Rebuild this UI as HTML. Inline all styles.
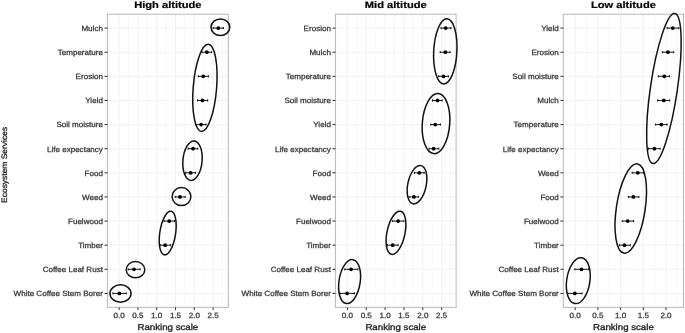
<!DOCTYPE html>
<html><head><meta charset="utf-8"><title>Ranking scale</title>
<style>
html,body{margin:0;padding:0;background:#fff;}
body{width:685px;height:333px;overflow:hidden;}
svg{display:block;font-family:"Liberation Sans",sans-serif;will-change:transform;text-rendering:geometricPrecision;}
</style></head><body>
<svg width="685" height="333" viewBox="0 0 685 333">
<rect x="0" y="0" width="685" height="333" fill="#fff"/>
<g stroke="#f6f6f6" stroke-width="0.8"><line x1="109.7" y1="14.2" x2="109.7" y2="307.4"/><line x1="128.5" y1="14.2" x2="128.5" y2="307.4"/><line x1="147.3" y1="14.2" x2="147.3" y2="307.4"/><line x1="166.1" y1="14.2" x2="166.1" y2="307.4"/><line x1="184.9" y1="14.2" x2="184.9" y2="307.4"/><line x1="203.7" y1="14.2" x2="203.7" y2="307.4"/><line x1="222.5" y1="14.2" x2="222.5" y2="307.4"/></g>
<g stroke="#efefef" stroke-width="0.9"><line x1="119.1" y1="14.2" x2="119.1" y2="307.4"/><line x1="137.9" y1="14.2" x2="137.9" y2="307.4"/><line x1="156.7" y1="14.2" x2="156.7" y2="307.4"/><line x1="175.5" y1="14.2" x2="175.5" y2="307.4"/><line x1="194.3" y1="14.2" x2="194.3" y2="307.4"/><line x1="213.1" y1="14.2" x2="213.1" y2="307.4"/><line x1="107.4" y1="28.1" x2="228.3" y2="28.1"/><line x1="107.4" y1="52.22" x2="228.3" y2="52.22"/><line x1="107.4" y1="76.34" x2="228.3" y2="76.34"/><line x1="107.4" y1="100.46" x2="228.3" y2="100.46"/><line x1="107.4" y1="124.58" x2="228.3" y2="124.58"/><line x1="107.4" y1="148.7" x2="228.3" y2="148.7"/><line x1="107.4" y1="172.82" x2="228.3" y2="172.82"/><line x1="107.4" y1="196.94" x2="228.3" y2="196.94"/><line x1="107.4" y1="221.06" x2="228.3" y2="221.06"/><line x1="107.4" y1="245.18" x2="228.3" y2="245.18"/><line x1="107.4" y1="269.3" x2="228.3" y2="269.3"/><line x1="107.4" y1="293.42" x2="228.3" y2="293.42"/></g>
<rect x="107.4" y="14.2" width="120.9" height="293.2" fill="none" stroke="#b8b8b8" stroke-width="1"/>
<g stroke="#333" stroke-width="1.05"><line x1="119.1" y1="307.4" x2="119.1" y2="310.1"/><line x1="137.9" y1="307.4" x2="137.9" y2="310.1"/><line x1="156.7" y1="307.4" x2="156.7" y2="310.1"/><line x1="175.5" y1="307.4" x2="175.5" y2="310.1"/><line x1="194.3" y1="307.4" x2="194.3" y2="310.1"/><line x1="213.1" y1="307.4" x2="213.1" y2="310.1"/><line x1="104.5" y1="28.1" x2="107.4" y2="28.1"/><line x1="104.5" y1="52.22" x2="107.4" y2="52.22"/><line x1="104.5" y1="76.34" x2="107.4" y2="76.34"/><line x1="104.5" y1="100.46" x2="107.4" y2="100.46"/><line x1="104.5" y1="124.58" x2="107.4" y2="124.58"/><line x1="104.5" y1="148.7" x2="107.4" y2="148.7"/><line x1="104.5" y1="172.82" x2="107.4" y2="172.82"/><line x1="104.5" y1="196.94" x2="107.4" y2="196.94"/><line x1="104.5" y1="221.06" x2="107.4" y2="221.06"/><line x1="104.5" y1="245.18" x2="107.4" y2="245.18"/><line x1="104.5" y1="269.3" x2="107.4" y2="269.3"/><line x1="104.5" y1="293.42" x2="107.4" y2="293.42"/></g>
<g font-size="7.6" fill="#333" stroke="#333" stroke-width="0.25" text-anchor="end"><text x="0" y="0" transform="translate(102.9,30.9) scale(1.06,1)">Mulch</text><text x="0" y="0" transform="translate(102.9,55.02) scale(1.06,1)">Temperature</text><text x="0" y="0" transform="translate(102.9,79.14) scale(1.06,1)">Erosion</text><text x="0" y="0" transform="translate(102.9,103.26) scale(1.06,1)">Yield</text><text x="0" y="0" transform="translate(102.9,127.38) scale(1.06,1)">Soil moisture</text><text x="0" y="0" transform="translate(102.9,151.5) scale(1.06,1)">Life expectancy</text><text x="0" y="0" transform="translate(102.9,175.62) scale(1.06,1)">Food</text><text x="0" y="0" transform="translate(102.9,199.74) scale(1.06,1)">Weed</text><text x="0" y="0" transform="translate(102.9,223.86) scale(1.06,1)">Fuelwood</text><text x="0" y="0" transform="translate(102.9,247.98) scale(1.06,1)">Timber</text><text x="0" y="0" transform="translate(102.9,272.1) scale(1.06,1)">Coffee Leaf Rust</text><text x="0" y="0" transform="translate(102.9,296.22) scale(1.06,1)">White Coffee Stem Borer</text></g>
<g font-size="7.6" fill="#333" stroke="#333" stroke-width="0.25" text-anchor="middle"><text x="0" y="0" transform="translate(119.1,317.75) scale(1.06,1)">0.0</text><text x="0" y="0" transform="translate(137.9,317.75) scale(1.06,1)">0.5</text><text x="0" y="0" transform="translate(156.7,317.75) scale(1.06,1)">1.0</text><text x="0" y="0" transform="translate(175.5,317.75) scale(1.06,1)">1.5</text><text x="0" y="0" transform="translate(194.3,317.75) scale(1.06,1)">2.0</text><text x="0" y="0" transform="translate(213.1,317.75) scale(1.06,1)">2.5</text></g>
<text x="0" y="0" transform="translate(167.85,329.8) scale(1.125,1)" font-size="8.6" fill="#1a1a1a" stroke="#1a1a1a" stroke-width="0.3" text-anchor="middle">Ranking scale</text>
<text x="0" y="0" transform="translate(167.85,7.95) scale(1.18,1)" font-size="9.45" font-weight="bold" fill="#000" stroke="#000" stroke-width="0.2" text-anchor="middle">High altitude</text>
<g stroke="#000" stroke-width="0.9"><line x1="213.1" y1="28.1" x2="223.4" y2="28.1"/><line x1="213.1" y1="27" x2="213.1" y2="29.2"/><line x1="223.4" y1="27" x2="223.4" y2="29.2"/><line x1="201.9" y1="52.22" x2="211.6" y2="52.22"/><line x1="201.9" y1="51.12" x2="201.9" y2="53.32"/><line x1="211.6" y1="51.12" x2="211.6" y2="53.32"/><line x1="198.3" y1="76.34" x2="208.4" y2="76.34"/><line x1="198.3" y1="75.24" x2="198.3" y2="77.44"/><line x1="208.4" y1="75.24" x2="208.4" y2="77.44"/><line x1="197.5" y1="100.46" x2="207.7" y2="100.46"/><line x1="197.5" y1="99.36" x2="197.5" y2="101.56"/><line x1="207.7" y1="99.36" x2="207.7" y2="101.56"/><line x1="195.6" y1="124.58" x2="206.1" y2="124.58"/><line x1="195.6" y1="123.48" x2="195.6" y2="125.68"/><line x1="206.1" y1="123.48" x2="206.1" y2="125.68"/><line x1="188.2" y1="148.7" x2="197.7" y2="148.7"/><line x1="188.2" y1="147.6" x2="188.2" y2="149.8"/><line x1="197.7" y1="147.6" x2="197.7" y2="149.8"/><line x1="185.6" y1="172.82" x2="195.5" y2="172.82"/><line x1="185.6" y1="171.72" x2="185.6" y2="173.92"/><line x1="195.5" y1="171.72" x2="195.5" y2="173.92"/><line x1="175.2" y1="196.94" x2="185.2" y2="196.94"/><line x1="175.2" y1="195.84" x2="175.2" y2="198.04"/><line x1="185.2" y1="195.84" x2="185.2" y2="198.04"/><line x1="164" y1="221.06" x2="174.5" y2="221.06"/><line x1="164" y1="219.96" x2="164" y2="222.16"/><line x1="174.5" y1="219.96" x2="174.5" y2="222.16"/><line x1="160.2" y1="245.18" x2="170.7" y2="245.18"/><line x1="160.2" y1="244.08" x2="160.2" y2="246.28"/><line x1="170.7" y1="244.08" x2="170.7" y2="246.28"/><line x1="128.2" y1="269.3" x2="140.1" y2="269.3"/><line x1="128.2" y1="268.2" x2="128.2" y2="270.4"/><line x1="140.1" y1="268.2" x2="140.1" y2="270.4"/><line x1="112.9" y1="293.42" x2="126.2" y2="293.42"/><line x1="112.9" y1="292.32" x2="112.9" y2="294.52"/><line x1="126.2" y1="292.32" x2="126.2" y2="294.52"/></g>
<g fill="#000"><circle cx="218.3" cy="28.1" r="1.9"/><circle cx="206.9" cy="52.22" r="1.9"/><circle cx="203.3" cy="76.34" r="1.9"/><circle cx="202.5" cy="100.46" r="1.9"/><circle cx="201.1" cy="124.58" r="1.9"/><circle cx="193.1" cy="148.7" r="1.9"/><circle cx="190.7" cy="172.82" r="1.9"/><circle cx="180" cy="196.94" r="1.9"/><circle cx="169.2" cy="221.06" r="1.9"/><circle cx="165.2" cy="245.18" r="1.9"/><circle cx="134" cy="269.3" r="1.9"/><circle cx="119.4" cy="293.42" r="1.9"/></g>
<g fill="none" stroke="#111" stroke-width="1.5"><ellipse cx="0" cy="0" rx="9.4" ry="8.3" transform="translate(220.4,27.3) rotate(0)"/><ellipse cx="0" cy="0" rx="11.7" ry="43.7" transform="translate(204.9,87.85) rotate(4.6)"/><ellipse cx="0" cy="0" rx="9.6" ry="19.8" transform="translate(192.5,160.7) rotate(5)"/><ellipse cx="0" cy="0" rx="9.4" ry="9" transform="translate(181.5,196.6) rotate(0)"/><ellipse cx="0" cy="0" rx="7.9" ry="22" transform="translate(167.7,233.1) rotate(8.7)"/><ellipse cx="0" cy="0" rx="9.3" ry="8.1" transform="translate(135.5,269.7) rotate(0)"/><ellipse cx="0" cy="0" rx="10.5" ry="8.7" transform="translate(120.5,293.5) rotate(0)"/></g>
<g stroke="#f6f6f6" stroke-width="0.8"><line x1="337.97" y1="14.2" x2="337.97" y2="307.4"/><line x1="356.82" y1="14.2" x2="356.82" y2="307.4"/><line x1="375.67" y1="14.2" x2="375.67" y2="307.4"/><line x1="394.52" y1="14.2" x2="394.52" y2="307.4"/><line x1="413.38" y1="14.2" x2="413.38" y2="307.4"/><line x1="432.22" y1="14.2" x2="432.22" y2="307.4"/><line x1="451.07" y1="14.2" x2="451.07" y2="307.4"/></g>
<g stroke="#efefef" stroke-width="0.9"><line x1="347.4" y1="14.2" x2="347.4" y2="307.4"/><line x1="366.25" y1="14.2" x2="366.25" y2="307.4"/><line x1="385.1" y1="14.2" x2="385.1" y2="307.4"/><line x1="403.95" y1="14.2" x2="403.95" y2="307.4"/><line x1="422.8" y1="14.2" x2="422.8" y2="307.4"/><line x1="441.65" y1="14.2" x2="441.65" y2="307.4"/><line x1="335.4" y1="28.1" x2="456.1" y2="28.1"/><line x1="335.4" y1="52.22" x2="456.1" y2="52.22"/><line x1="335.4" y1="76.34" x2="456.1" y2="76.34"/><line x1="335.4" y1="100.46" x2="456.1" y2="100.46"/><line x1="335.4" y1="124.58" x2="456.1" y2="124.58"/><line x1="335.4" y1="148.7" x2="456.1" y2="148.7"/><line x1="335.4" y1="172.82" x2="456.1" y2="172.82"/><line x1="335.4" y1="196.94" x2="456.1" y2="196.94"/><line x1="335.4" y1="221.06" x2="456.1" y2="221.06"/><line x1="335.4" y1="245.18" x2="456.1" y2="245.18"/><line x1="335.4" y1="269.3" x2="456.1" y2="269.3"/><line x1="335.4" y1="293.42" x2="456.1" y2="293.42"/></g>
<rect x="335.4" y="14.2" width="120.7" height="293.2" fill="none" stroke="#b8b8b8" stroke-width="1"/>
<g stroke="#333" stroke-width="1.05"><line x1="347.4" y1="307.4" x2="347.4" y2="310.1"/><line x1="366.25" y1="307.4" x2="366.25" y2="310.1"/><line x1="385.1" y1="307.4" x2="385.1" y2="310.1"/><line x1="403.95" y1="307.4" x2="403.95" y2="310.1"/><line x1="422.8" y1="307.4" x2="422.8" y2="310.1"/><line x1="441.65" y1="307.4" x2="441.65" y2="310.1"/><line x1="332.5" y1="28.1" x2="335.4" y2="28.1"/><line x1="332.5" y1="52.22" x2="335.4" y2="52.22"/><line x1="332.5" y1="76.34" x2="335.4" y2="76.34"/><line x1="332.5" y1="100.46" x2="335.4" y2="100.46"/><line x1="332.5" y1="124.58" x2="335.4" y2="124.58"/><line x1="332.5" y1="148.7" x2="335.4" y2="148.7"/><line x1="332.5" y1="172.82" x2="335.4" y2="172.82"/><line x1="332.5" y1="196.94" x2="335.4" y2="196.94"/><line x1="332.5" y1="221.06" x2="335.4" y2="221.06"/><line x1="332.5" y1="245.18" x2="335.4" y2="245.18"/><line x1="332.5" y1="269.3" x2="335.4" y2="269.3"/><line x1="332.5" y1="293.42" x2="335.4" y2="293.42"/></g>
<g font-size="7.6" fill="#333" stroke="#333" stroke-width="0.25" text-anchor="end"><text x="0" y="0" transform="translate(330.9,30.9) scale(1.06,1)">Erosion</text><text x="0" y="0" transform="translate(330.9,55.02) scale(1.06,1)">Mulch</text><text x="0" y="0" transform="translate(330.9,79.14) scale(1.06,1)">Temperature</text><text x="0" y="0" transform="translate(330.9,103.26) scale(1.06,1)">Soil moisture</text><text x="0" y="0" transform="translate(330.9,127.38) scale(1.06,1)">Yield</text><text x="0" y="0" transform="translate(330.9,151.5) scale(1.06,1)">Life expectancy</text><text x="0" y="0" transform="translate(330.9,175.62) scale(1.06,1)">Food</text><text x="0" y="0" transform="translate(330.9,199.74) scale(1.06,1)">Weed</text><text x="0" y="0" transform="translate(330.9,223.86) scale(1.06,1)">Fuelwood</text><text x="0" y="0" transform="translate(330.9,247.98) scale(1.06,1)">Timber</text><text x="0" y="0" transform="translate(330.9,272.1) scale(1.06,1)">Coffee Leaf Rust</text><text x="0" y="0" transform="translate(330.9,296.22) scale(1.06,1)">White Coffee Stem Borer</text></g>
<g font-size="7.6" fill="#333" stroke="#333" stroke-width="0.25" text-anchor="middle"><text x="0" y="0" transform="translate(347.4,317.75) scale(1.06,1)">0.0</text><text x="0" y="0" transform="translate(366.25,317.75) scale(1.06,1)">0.5</text><text x="0" y="0" transform="translate(385.1,317.75) scale(1.06,1)">1.0</text><text x="0" y="0" transform="translate(403.95,317.75) scale(1.06,1)">1.5</text><text x="0" y="0" transform="translate(422.8,317.75) scale(1.06,1)">2.0</text><text x="0" y="0" transform="translate(441.65,317.75) scale(1.06,1)">2.5</text></g>
<text x="0" y="0" transform="translate(395.75,329.8) scale(1.125,1)" font-size="8.6" fill="#1a1a1a" stroke="#1a1a1a" stroke-width="0.3" text-anchor="middle">Ranking scale</text>
<text x="0" y="0" transform="translate(395.75,7.95) scale(1.18,1)" font-size="9.45" font-weight="bold" fill="#000" stroke="#000" stroke-width="0.2" text-anchor="middle">Mid altitude</text>
<g stroke="#000" stroke-width="0.9"><line x1="441" y1="28.1" x2="451" y2="28.1"/><line x1="441" y1="27" x2="441" y2="29.2"/><line x1="451" y1="27" x2="451" y2="29.2"/><line x1="440.2" y1="52.22" x2="450.1" y2="52.22"/><line x1="440.2" y1="51.12" x2="440.2" y2="53.32"/><line x1="450.1" y1="51.12" x2="450.1" y2="53.32"/><line x1="438.7" y1="76.34" x2="448.4" y2="76.34"/><line x1="438.7" y1="75.24" x2="438.7" y2="77.44"/><line x1="448.4" y1="75.24" x2="448.4" y2="77.44"/><line x1="432.5" y1="100.46" x2="442.2" y2="100.46"/><line x1="432.5" y1="99.36" x2="432.5" y2="101.56"/><line x1="442.2" y1="99.36" x2="442.2" y2="101.56"/><line x1="430.7" y1="124.58" x2="440.4" y2="124.58"/><line x1="430.7" y1="123.48" x2="430.7" y2="125.68"/><line x1="440.4" y1="123.48" x2="440.4" y2="125.68"/><line x1="429.1" y1="148.7" x2="438.8" y2="148.7"/><line x1="429.1" y1="147.6" x2="429.1" y2="149.8"/><line x1="438.8" y1="147.6" x2="438.8" y2="149.8"/><line x1="414.4" y1="172.82" x2="424.2" y2="172.82"/><line x1="414.4" y1="171.72" x2="414.4" y2="173.92"/><line x1="424.2" y1="171.72" x2="424.2" y2="173.92"/><line x1="409" y1="196.94" x2="418.4" y2="196.94"/><line x1="409" y1="195.84" x2="409" y2="198.04"/><line x1="418.4" y1="195.84" x2="418.4" y2="198.04"/><line x1="392.7" y1="221.06" x2="403.9" y2="221.06"/><line x1="392.7" y1="219.96" x2="392.7" y2="222.16"/><line x1="403.9" y1="219.96" x2="403.9" y2="222.16"/><line x1="387.4" y1="245.18" x2="398.1" y2="245.18"/><line x1="387.4" y1="244.08" x2="387.4" y2="246.28"/><line x1="398.1" y1="244.08" x2="398.1" y2="246.28"/><line x1="344.8" y1="269.3" x2="357.9" y2="269.3"/><line x1="344.8" y1="268.2" x2="344.8" y2="270.4"/><line x1="357.9" y1="268.2" x2="357.9" y2="270.4"/><line x1="339.9" y1="293.42" x2="354.3" y2="293.42"/><line x1="339.9" y1="292.32" x2="339.9" y2="294.52"/><line x1="354.3" y1="292.32" x2="354.3" y2="294.52"/></g>
<g fill="#000"><circle cx="445.7" cy="28.1" r="1.9"/><circle cx="445.3" cy="52.22" r="1.9"/><circle cx="443.5" cy="76.34" r="1.9"/><circle cx="437.5" cy="100.46" r="1.9"/><circle cx="435.2" cy="124.58" r="1.9"/><circle cx="433.6" cy="148.7" r="1.9"/><circle cx="419.3" cy="172.82" r="1.9"/><circle cx="413.9" cy="196.94" r="1.9"/><circle cx="398.1" cy="221.06" r="1.9"/><circle cx="392.7" cy="245.18" r="1.9"/><circle cx="351.1" cy="269.3" r="1.9"/><circle cx="347.1" cy="293.42" r="1.9"/></g>
<g fill="none" stroke="#111" stroke-width="1.5"><ellipse cx="0" cy="0" rx="11.6" ry="32.6" transform="translate(445.3,51.4) rotate(3)"/><ellipse cx="0" cy="0" rx="13.7" ry="30.1" transform="translate(436,123.6) rotate(4.3)"/><ellipse cx="0" cy="0" rx="9.2" ry="19.5" transform="translate(417,184.7) rotate(11.8)"/><ellipse cx="0" cy="0" rx="9" ry="22" transform="translate(396,232.8) rotate(12)"/><ellipse cx="0" cy="0" rx="10.6" ry="22.2" transform="translate(349.6,281.6) rotate(8.7)"/></g>
<g stroke="#f6f6f6" stroke-width="0.8"><line x1="563.85" y1="14.2" x2="563.85" y2="307.4"/><line x1="586.55" y1="14.2" x2="586.55" y2="307.4"/><line x1="609.25" y1="14.2" x2="609.25" y2="307.4"/><line x1="631.95" y1="14.2" x2="631.95" y2="307.4"/><line x1="654.65" y1="14.2" x2="654.65" y2="307.4"/><line x1="677.35" y1="14.2" x2="677.35" y2="307.4"/></g>
<g stroke="#efefef" stroke-width="0.9"><line x1="575.2" y1="14.2" x2="575.2" y2="307.4"/><line x1="597.9" y1="14.2" x2="597.9" y2="307.4"/><line x1="620.6" y1="14.2" x2="620.6" y2="307.4"/><line x1="643.3" y1="14.2" x2="643.3" y2="307.4"/><line x1="666" y1="14.2" x2="666" y2="307.4"/><line x1="563.3" y1="28.1" x2="683.5" y2="28.1"/><line x1="563.3" y1="52.22" x2="683.5" y2="52.22"/><line x1="563.3" y1="76.34" x2="683.5" y2="76.34"/><line x1="563.3" y1="100.46" x2="683.5" y2="100.46"/><line x1="563.3" y1="124.58" x2="683.5" y2="124.58"/><line x1="563.3" y1="148.7" x2="683.5" y2="148.7"/><line x1="563.3" y1="172.82" x2="683.5" y2="172.82"/><line x1="563.3" y1="196.94" x2="683.5" y2="196.94"/><line x1="563.3" y1="221.06" x2="683.5" y2="221.06"/><line x1="563.3" y1="245.18" x2="683.5" y2="245.18"/><line x1="563.3" y1="269.3" x2="683.5" y2="269.3"/><line x1="563.3" y1="293.42" x2="683.5" y2="293.42"/></g>
<rect x="563.3" y="14.2" width="120.2" height="293.2" fill="none" stroke="#b8b8b8" stroke-width="1"/>
<g stroke="#333" stroke-width="1.05"><line x1="575.2" y1="307.4" x2="575.2" y2="310.1"/><line x1="597.9" y1="307.4" x2="597.9" y2="310.1"/><line x1="620.6" y1="307.4" x2="620.6" y2="310.1"/><line x1="643.3" y1="307.4" x2="643.3" y2="310.1"/><line x1="666" y1="307.4" x2="666" y2="310.1"/><line x1="560.4" y1="28.1" x2="563.3" y2="28.1"/><line x1="560.4" y1="52.22" x2="563.3" y2="52.22"/><line x1="560.4" y1="76.34" x2="563.3" y2="76.34"/><line x1="560.4" y1="100.46" x2="563.3" y2="100.46"/><line x1="560.4" y1="124.58" x2="563.3" y2="124.58"/><line x1="560.4" y1="148.7" x2="563.3" y2="148.7"/><line x1="560.4" y1="172.82" x2="563.3" y2="172.82"/><line x1="560.4" y1="196.94" x2="563.3" y2="196.94"/><line x1="560.4" y1="221.06" x2="563.3" y2="221.06"/><line x1="560.4" y1="245.18" x2="563.3" y2="245.18"/><line x1="560.4" y1="269.3" x2="563.3" y2="269.3"/><line x1="560.4" y1="293.42" x2="563.3" y2="293.42"/></g>
<g font-size="7.6" fill="#333" stroke="#333" stroke-width="0.25" text-anchor="end"><text x="0" y="0" transform="translate(558.8,30.9) scale(1.06,1)">Yield</text><text x="0" y="0" transform="translate(558.8,55.02) scale(1.06,1)">Erosion</text><text x="0" y="0" transform="translate(558.8,79.14) scale(1.06,1)">Soil moisture</text><text x="0" y="0" transform="translate(558.8,103.26) scale(1.06,1)">Mulch</text><text x="0" y="0" transform="translate(558.8,127.38) scale(1.06,1)">Temperature</text><text x="0" y="0" transform="translate(558.8,151.5) scale(1.06,1)">Life expectancy</text><text x="0" y="0" transform="translate(558.8,175.62) scale(1.06,1)">Weed</text><text x="0" y="0" transform="translate(558.8,199.74) scale(1.06,1)">Food</text><text x="0" y="0" transform="translate(558.8,223.86) scale(1.06,1)">Fuelwood</text><text x="0" y="0" transform="translate(558.8,247.98) scale(1.06,1)">Timber</text><text x="0" y="0" transform="translate(558.8,272.1) scale(1.06,1)">Coffee Leaf Rust</text><text x="0" y="0" transform="translate(558.8,296.22) scale(1.06,1)">White Coffee Stem Borer</text></g>
<g font-size="7.6" fill="#333" stroke="#333" stroke-width="0.25" text-anchor="middle"><text x="0" y="0" transform="translate(575.2,317.75) scale(1.06,1)">0.0</text><text x="0" y="0" transform="translate(597.9,317.75) scale(1.06,1)">0.5</text><text x="0" y="0" transform="translate(620.6,317.75) scale(1.06,1)">1.0</text><text x="0" y="0" transform="translate(643.3,317.75) scale(1.06,1)">1.5</text><text x="0" y="0" transform="translate(666,317.75) scale(1.06,1)">2.0</text></g>
<text x="0" y="0" transform="translate(623.4,329.8) scale(1.125,1)" font-size="8.6" fill="#1a1a1a" stroke="#1a1a1a" stroke-width="0.3" text-anchor="middle">Ranking scale</text>
<text x="0" y="0" transform="translate(623.4,7.95) scale(1.18,1)" font-size="9.45" font-weight="bold" fill="#000" stroke="#000" stroke-width="0.2" text-anchor="middle">Low altitude</text>
<g stroke="#000" stroke-width="0.9"><line x1="667.2" y1="28.1" x2="678.8" y2="28.1"/><line x1="667.2" y1="27" x2="667.2" y2="29.2"/><line x1="678.8" y1="27" x2="678.8" y2="29.2"/><line x1="662.4" y1="52.22" x2="673.7" y2="52.22"/><line x1="662.4" y1="51.12" x2="662.4" y2="53.32"/><line x1="673.7" y1="51.12" x2="673.7" y2="53.32"/><line x1="658.3" y1="76.34" x2="669.6" y2="76.34"/><line x1="658.3" y1="75.24" x2="658.3" y2="77.44"/><line x1="669.6" y1="75.24" x2="669.6" y2="77.44"/><line x1="657.7" y1="100.46" x2="669.7" y2="100.46"/><line x1="657.7" y1="99.36" x2="657.7" y2="101.56"/><line x1="669.7" y1="99.36" x2="669.7" y2="101.56"/><line x1="655.6" y1="124.58" x2="667.1" y2="124.58"/><line x1="655.6" y1="123.48" x2="655.6" y2="125.68"/><line x1="667.1" y1="123.48" x2="667.1" y2="125.68"/><line x1="648.5" y1="148.7" x2="660.2" y2="148.7"/><line x1="648.5" y1="147.6" x2="648.5" y2="149.8"/><line x1="660.2" y1="147.6" x2="660.2" y2="149.8"/><line x1="632.2" y1="172.82" x2="643.6" y2="172.82"/><line x1="632.2" y1="171.72" x2="632.2" y2="173.92"/><line x1="643.6" y1="171.72" x2="643.6" y2="173.92"/><line x1="628.4" y1="196.94" x2="638.9" y2="196.94"/><line x1="628.4" y1="195.84" x2="628.4" y2="198.04"/><line x1="638.9" y1="195.84" x2="638.9" y2="198.04"/><line x1="622.2" y1="221.06" x2="633.6" y2="221.06"/><line x1="622.2" y1="219.96" x2="622.2" y2="222.16"/><line x1="633.6" y1="219.96" x2="633.6" y2="222.16"/><line x1="619.4" y1="245.18" x2="630.3" y2="245.18"/><line x1="619.4" y1="244.08" x2="619.4" y2="246.28"/><line x1="630.3" y1="244.08" x2="630.3" y2="246.28"/><line x1="574.8" y1="269.3" x2="588.8" y2="269.3"/><line x1="574.8" y1="268.2" x2="574.8" y2="270.4"/><line x1="588.8" y1="268.2" x2="588.8" y2="270.4"/><line x1="567.6" y1="293.42" x2="582" y2="293.42"/><line x1="567.6" y1="292.32" x2="567.6" y2="294.52"/><line x1="582" y1="292.32" x2="582" y2="294.52"/></g>
<g fill="#000"><circle cx="672.8" cy="28.1" r="1.9"/><circle cx="667.9" cy="52.22" r="1.9"/><circle cx="664.3" cy="76.34" r="1.9"/><circle cx="663.8" cy="100.46" r="1.9"/><circle cx="661.3" cy="124.58" r="1.9"/><circle cx="654.4" cy="148.7" r="1.9"/><circle cx="637.8" cy="172.82" r="1.9"/><circle cx="633.4" cy="196.94" r="1.9"/><circle cx="627.7" cy="221.06" r="1.9"/><circle cx="624.5" cy="245.18" r="1.9"/><circle cx="581.4" cy="269.3" r="1.9"/><circle cx="574.8" cy="293.42" r="1.9"/></g>
<g fill="none" stroke="#111" stroke-width="1.5"><ellipse cx="0" cy="0" rx="13.5" ry="75.8" transform="translate(663.9,88.55) rotate(8.3)"/><ellipse cx="0" cy="0" rx="14.4" ry="45.1" transform="translate(630.75,208.5) rotate(8.6)"/><ellipse cx="0" cy="0" rx="11.6" ry="23.1" transform="translate(578.3,280.7) rotate(8.4)"/></g>
<text x="0" y="0" transform="translate(7.1,164.9) rotate(-90) scale(1.07,1)" font-size="7.9" fill="#1a1a1a" stroke="#1a1a1a" stroke-width="0.25" text-anchor="middle">Ecosystem Services</text>
</svg>
</body></html>
